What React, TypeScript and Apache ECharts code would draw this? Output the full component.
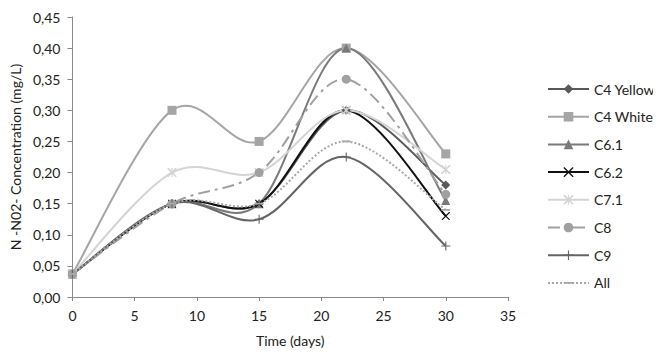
import React, { useEffect, useRef } from "react";
import * as echarts from "echarts";

const days = [0, 8, 15, 22, 30];
const seriesNames = ["C4 Yellow", "C4 White", "C6.1", "C6.2", "C7.1", "C8", "C9", "All"];
const c4Yellow = [0.037, 0.15, 0.15, 0.30, 0.18];
const c4White = [0.037, 0.30, 0.25, 0.40, 0.23];
const c61 = [0.037, 0.15, 0.15, 0.40, 0.155];
const c62 = [0.037, 0.15, 0.15, 0.30, 0.13];
const c71 = [0.037, 0.20, 0.20, 0.30, 0.205];
const c8 = [0.037, 0.15, 0.20, 0.35, 0.165];
const c9 = [0.037, 0.15, 0.125, 0.225, 0.082];
const all = [0.037, 0.15, 0.15, 0.25, 0.14];

const X_PATH = "path://M0,0 L1,0 L10,9 L10,10 L9,10 L0,1 Z M9,0 L10,0 L10,1 L1,10 L0,10 L0,9 Z";
const PLUS_PATH = "path://M4.4,0 H5.6 V4.4 H10 V5.6 H5.6 V10 H4.4 V5.6 H0 V4.4 H4.4 Z";
const STAR_PATH = "path://M4.4,0 H5.6 V10 H4.4 Z M0,0 L1.2,0 L10,8.8 L10,10 L8.8,10 L0,1.2 Z M8.8,0 L10,0 L10,1.2 L1.2,10 L0,10 L0,8.8 Z";
const DASH_PATH = "path://M0,0 H0.05 V0.05 H0 Z M0,4 H10 V6 H0 Z M9.95,9.95 H10 V10 H9.95 Z";

type Def = { name: string; data: number[]; color: string; symbol: string; size: number; dash: any; width: number };

const defs: Def[] = [
  { name: seriesNames[0], data: c4Yellow, color: "#595959", symbol: "diamond", size: 9, dash: "solid", width: 2 },
  { name: seriesNames[1], data: c4White, color: "#a5a5a5", symbol: "rect", size: 9, dash: "solid", width: 2 },
  { name: seriesNames[2], data: c61, color: "#7a7a7a", symbol: "triangle", size: 9, dash: "solid", width: 2 },
  { name: seriesNames[3], data: c62, color: "#111111", symbol: X_PATH, size: 8, dash: "solid", width: 2 },
  { name: seriesNames[4], data: c71, color: "#d4d4d4", symbol: STAR_PATH, size: 9, dash: "solid", width: 2 },
  { name: seriesNames[5], data: c8, color: "#a0a0a0", symbol: "circle", size: 9, dash: [12, 5, 3, 5], width: 2 },
  { name: seriesNames[6], data: c9, color: "#656565", symbol: PLUS_PATH, size: 9, dash: "solid", width: 2 },
  { name: seriesNames[7], data: all, color: "#a8a8a8", symbol: DASH_PATH, size: 9, dash: [2, 2], width: 2 },
];

function curvePath(pts: number[][]): string {
  const n = pts.length;
  let d = `M${pts[0][0]},${pts[0][1]}`;
  for (let i = 0; i < n - 1; i++) {
    const p0 = pts[Math.max(0, i - 1)];
    const p1 = pts[i];
    const p2 = pts[i + 1];
    const p3 = pts[Math.min(n - 1, i + 2)];
    const c1x = p1[0] + (p2[0] - p0[0]) / 6;
    const c1y = p1[1] + (p2[1] - p0[1]) / 6;
    const c2x = p2[0] - (p3[0] - p1[0]) / 6;
    const c2y = p2[1] - (p3[1] - p1[1]) / 6;
    d += ` C${c1x},${c1y} ${c2x},${c2y} ${p2[0]},${p2[1]}`;
  }
  return d;
}

export default function App() {
  const ref = useRef<HTMLDivElement>(null);
  useEffect(() => {
    if (!ref.current) return;
    const chart = echarts.init(ref.current, null, { renderer: "svg" });
    const font = "Lato";
    const curves = defs.map((s, k) => ({
      name: s.name + " curve",
      type: "custom",
      z: 2,
      silent: true,
      data: days.map((d, i) => [d, s.data[i]]),
      renderItem: (params: any, api: any) => {
        if (params.dataIndex !== 0) return null;
        const pts = days.map((d, i) => api.coord([d, s.data[i]]));
        return {
          type: "path",
          shape: { pathData: curvePath(pts) },
          style: { fill: "none", stroke: s.color, lineWidth: s.width, lineDash: s.dash === "solid" ? null : s.dash },
          z2: k,
        };
      },
    }));
    const markers = defs.map((s) => ({
      name: s.name,
      type: "line",
      z: 3,
      data: days.map((d, i) => [d, s.data[i]]),
      symbol: s.symbol,
      symbolSize: s.size,
      showSymbol: true,
      lineStyle: { color: s.color, width: s.width, type: s.dash, opacity: 0 },
      itemStyle: { color: s.color },
    }));
    chart.setOption({
      animation: false,
      backgroundColor: "#ffffff",
      grid: { left: 71, top: 17, width: 437, height: 280 },
      xAxis: {
        type: "value",
        min: 0,
        max: 35,
        interval: 5,
        name: "Time (days)",
        nameLocation: "middle",
        nameGap: 36,
        nameTextStyle: { fontFamily: font, fontSize: 14, color: "#222" },
        axisLine: { show: true, lineStyle: { color: "#8a8a8a", width: 1 } },
        axisTick: { show: true, inside: false, length: 4, lineStyle: { color: "#8a8a8a" } },
        axisLabel: { fontFamily: font, fontSize: 14, color: "#222", margin: 11 },
        splitLine: { show: false },
      },
      yAxis: {
        type: "value",
        min: 0,
        max: 0.45,
        interval: 0.05,
        name: "N -N02- Concentration (mg/L)",
        nameLocation: "middle",
        nameGap: 46,
        nameRotate: 90,
        nameTextStyle: { fontFamily: font, fontSize: 14, color: "#222" },
        axisLine: { show: true, lineStyle: { color: "#8a8a8a", width: 1 } },
        axisTick: { show: true, inside: false, length: 5, lineStyle: { color: "#8a8a8a" } },
        axisLabel: {
          fontFamily: font,
          fontSize: 14,
          color: "#222",
          margin: 12,
          formatter: (v: number) => v.toFixed(2).replace(".", ","),
        },
        splitLine: { show: false },
      },
      legend: {
        orient: "vertical",
        left: 542,
        top: 77,
        itemWidth: 41,
        itemHeight: 12,
        itemGap: 13.7,
        data: defs.map((s) => ({
          name: s.name,
          lineStyle: { color: s.color, width: s.width, type: s.dash, opacity: 1 },
          itemStyle: { color: s.color },
        })),
        textStyle: { fontFamily: font, fontSize: 14, color: "#222" },
      },
      series: [...curves, ...markers],
    } as any);
    return () => chart.dispose();
  }, []);
  return <div ref={ref} style={{ width: 661, height: 356, margin: -8 }} />;
}
